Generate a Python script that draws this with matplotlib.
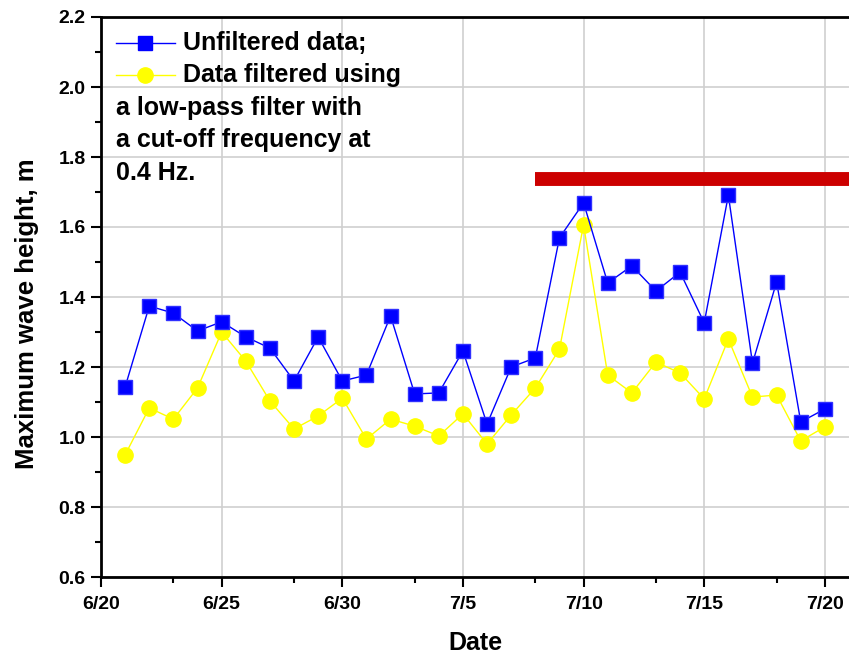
import matplotlib
matplotlib.use("Agg")
import matplotlib.pyplot as plt
from matplotlib.lines import Line2D
import numpy as np

# days after 6/20
days = list(range(1, 31))
unfiltered = [1.143, 1.374, 1.354, 1.303, 1.329, 1.286, 1.254, 1.160, 1.286, 1.160,
              1.177, 1.346, 1.123, 1.126, 1.246, 1.037, 1.200, 1.226, 1.569, 1.669,
              1.440, 1.489, 1.417, 1.471, 1.326, 1.691, 1.211, 1.443, 1.043, 1.080]
filtered = [0.949, 1.083, 1.051, 1.140, 1.300, 1.217, 1.103, 1.023, 1.060, 1.111,
            0.994, 1.051, 1.031, 1.003, 1.066, 0.980, 1.063, 1.140, 1.251, 1.606,
            1.177, 1.126, 1.214, 1.183, 1.109, 1.280, 1.114, 1.120, 0.989, 1.029]
xtick_pos = [0, 5, 10, 15, 20, 25, 30]
xtick_labels = ["6/20", "6/25", "6/30", "7/5", "7/10", "7/15", "7/20"]
bar_start, bar_end, bar_level = 18, 31, 1.737

plt.rcParams['font.family'] = ['Liberation Sans', 'DejaVu Sans']
plt.rcParams['font.weight'] = 'bold'

fig = plt.figure(figsize=(8.49, 6.57), dpi=100)
ax = fig.add_axes([101/849, 80/657, 748/849, 560/657])

ax.set_xlim(0, 31)
ax.set_ylim(0.6, 2.2)

ax.grid(True, which='major', color='#cfcfcf', linewidth=1.2, zorder=0)
ax.set_axisbelow(True)

ax.plot(days, filtered, color='#ffff00', linewidth=1, marker='o', markersize=11,
        markerfacecolor='#ffff00', markeredgecolor='#ffff00', zorder=3)
ax.plot(days, unfiltered, color='#0000ff', linewidth=1, marker='s', markersize=9.5,
        markerfacecolor='#0000ff', markeredgecolor='#3030ff', zorder=4)

ax.hlines(bar_level, bar_start, bar_end, color='#cc0000', linewidth=10, zorder=5,
          clip_on=True)

ax.set_xticks(xtick_pos)
ax.set_xticklabels(xtick_labels, fontsize=14, fontweight='bold')
ax.set_xticks([3, 8, 13, 18, 23, 28], minor=True)
yt = np.arange(0.6, 2.21, 0.2)
ax.set_yticks(yt)
ax.set_yticklabels([f"{v:.1f}" for v in yt], fontsize=14, fontweight='bold')
ax.set_yticks(np.arange(0.7, 2.2, 0.2), minor=True)

ax.tick_params(axis='both', which='major', direction='out', length=7, width=1.5, pad=4)
ax.tick_params(axis='x', which='major', pad=7)
ax.tick_params(axis='both', which='minor', direction='out', length=4, width=1.5)

for s in ['left', 'bottom', 'top']:
    ax.spines[s].set_linewidth(2)
    ax.spines[s].set_color('black')
ax.spines['right'].set_visible(False)

ax.set_xlabel("Date", fontsize=18, fontweight='bold')
ax.set_ylabel("Maximum wave height, m", fontsize=18.5, fontweight='bold')
ax.xaxis.set_label_coords(0.5, -(643 - 577) / 560, transform=ax.transAxes)
ax.yaxis.set_label_coords(-(101 - 27) / 748, (577 - 314) / 560, transform=ax.transAxes)
ax.xaxis.label.set_va('center')
ax.yaxis.label.set_va('center')

# manual legend
def fx(px):
    return (px - 101) / 748
def fy(py):
    return (577 - py) / 560

ax.add_line(Line2D([fx(116), fx(175)], [fy(43), fy(43)], transform=ax.transAxes,
                   color='#0000ff', linewidth=1, zorder=6))
ax.plot([fx(145)], [fy(43)], transform=ax.transAxes, marker='s', markersize=9.5,
        color='#0000ff', zorder=6, clip_on=False)
ax.add_line(Line2D([fx(116), fx(175)], [fy(75), fy(75)], transform=ax.transAxes,
                   color='#ffff00', linewidth=1, zorder=6))
ax.plot([fx(145)], [fy(75)], transform=ax.transAxes, marker='o', markersize=11,
        color='#ffff00', zorder=6, clip_on=False)

fs = 18
ax.text(fx(183), fy(43), "Unfiltered data;", transform=ax.transAxes, fontsize=fs,
        fontweight='bold', va='center', ha='left')
ax.text(fx(183), fy(75), "Data filtered using", transform=ax.transAxes, fontsize=fs,
        fontweight='bold', va='center', ha='left')
for i, line in enumerate(["a low-pass filter with", "a cut-off frequency at", "0.4 Hz."]):
    ax.text(fx(116), fy(108 + 32.3 * i), line, transform=ax.transAxes, fontsize=fs,
            fontweight='bold', va='center', ha='left')

fig.savefig("out.png", dpi=100)
